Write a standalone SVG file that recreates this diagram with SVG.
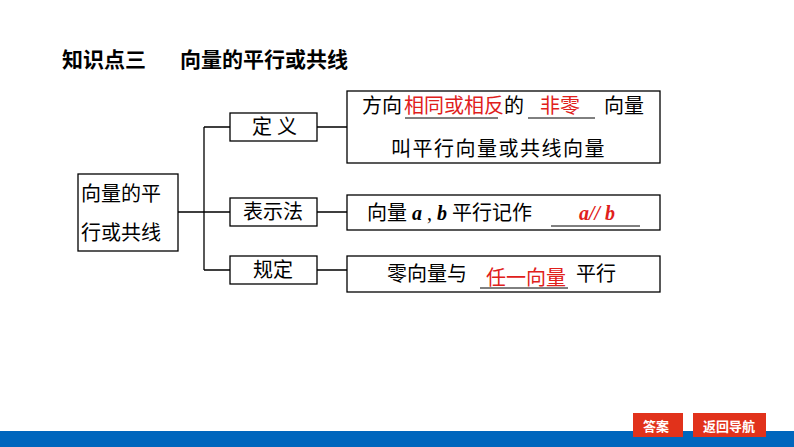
<svg xmlns="http://www.w3.org/2000/svg" width="794" height="447" viewBox="0 0 794 447">
<style>
text{font-family:"Liberation Serif","Noto Sans CJK SC",serif;font-size:20px;fill:#000}
.t{font-family:"Noto Sans CJK SC",sans-serif;font-weight:bold;font-size:21px}
.r{fill:#e0201b}
.b{fill:none;stroke:#000;stroke-width:1.3}
.u{stroke:#000;stroke-width:1}
.btn{font-family:"Noto Sans CJK SC",sans-serif;font-size:13px;font-weight:bold;fill:#fff}
</style>
<rect width="794" height="447" fill="#fff"/>
<text x="62" y="67" class="t">知识点三</text>
<text x="180" y="67" class="t">向量的平行或共线</text>
<g id="root"><rect class="b" x="78" y="174" width="100" height="77"/><text x="81" y="201">向量的平</text><text x="81" y="240">行或共线</text></g>
<g id="connectors" class="b">
<path d="M178 212H204M204 127V270M204 127H230M204 212H230M204 270H230"/>
<path d="M317 127H347M317 212H347M317 270H347"/>
</g>
<g id="n1"><rect class="b" x="230" y="113" width="87" height="28"/><text x="252" y="134">定 义</text></g>
<g id="n2"><rect class="b" x="230" y="198" width="87" height="28"/><text x="243" y="219">表示法</text></g>
<g id="n3"><rect class="b" x="230" y="256" width="87" height="28"/><text x="253" y="277">规定</text></g>
<g id="d1"><rect class="b" x="347" y="91" width="313" height="72"/>
<text x="362" y="113">方向</text><text x="404" y="113" class="r">相同或相反</text><text x="504" y="113">的</text>
<text x="540" y="113" class="r">非零</text><text x="604" y="113">向量</text>
<line class="u" x1="405" y1="118" x2="498" y2="118"/><line class="u" x1="528" y1="118" x2="595" y2="118"/>
<text x="391" y="156" letter-spacing="1.5">叫平行向量或共线向量</text></g>
<g id="d2"><rect class="b" x="347" y="195" width="313" height="35"/>
<text x="367" y="220">向量 <tspan font-weight="bold" font-style="italic">a</tspan> , <tspan font-weight="bold" font-style="italic">b</tspan> 平行记作</text>
<text x="579" y="220" class="r" font-weight="bold" font-style="italic">a// b</text>
<line class="u" x1="551" y1="226" x2="640" y2="226"/></g>
<g id="d3"><rect class="b" x="347" y="256" width="313" height="36"/>
<text x="387" y="281">零向量与</text><text x="486" y="285" class="r">任一向量</text><text x="576" y="281">平行</text>
<line class="u" x1="480" y1="288" x2="568" y2="288"/></g>
<rect x="0" y="431" width="794" height="16" fill="#0066bd"/>
<g id="btn1"><rect x="633" y="413" width="50" height="24" fill="#e1321b"/><text class="btn" x="643" y="431">答案</text></g>
<g id="btn2"><rect x="693" y="413" width="73" height="24" fill="#e1321b"/><text class="btn" x="703" y="431">返回导航</text></g>
</svg>
